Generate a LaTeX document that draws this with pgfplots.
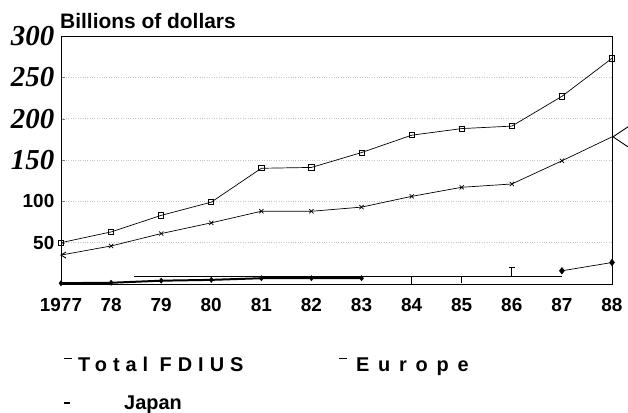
\documentclass[border=0pt]{standalone}
\usepackage{fontspec}
\setmainfont{Liberation Sans}
\newfontfamily\serfont{Liberation Serif}
\usepackage{pgfplots}
\pgfplotsset{compat=1.18}
\usetikzlibrary{calc}

% sans bold labels, serif italic labels
\newcommand\lab{\fontsize{19}{22}\selectfont\bfseries}
\newcommand\leg{\fontsize{20}{23}\selectfont\bfseries}
\newcommand\ser{\serfont\fontsize{29}{32}\selectfont\bfseries\itshape}

% open "<" marks used by the Europe series
\pgfdeclareplotmark{ltbig}{%
  \pgfpathmoveto{\pgfpoint{16bp}{10bp}}%
  \pgfpathlineto{\pgfpoint{1bp}{0bp}}%
  \pgfpathlineto{\pgfpoint{16bp}{-10bp}}%
  \pgfusepathqstroke}
\pgfdeclareplotmark{ltsmall}{%
  \pgfpathmoveto{\pgfpoint{5bp}{3bp}}%
  \pgfpathlineto{\pgfpoint{0bp}{0bp}}%
  \pgfpathlineto{\pgfpoint{5bp}{-3bp}}%
  \pgfusepathqstroke}

\begin{document}
\begin{tikzpicture}
\begin{axis}[
  width=551bp, height=248bp, scale only axis,
  xmin=1977, xmax=1988, ymin=0, ymax=300,
  xtick={1977,...,1988},
  xticklabels={1977,78,79,80,81,82,83,84,85,86,87,88},
  ytick={50,100,150,200,250,300},
  yticklabels={{\lab 50},{\lab 100},{\ser 150},{\ser 200},{\ser 250},{\ser 300}},
  yticklabel style={inner sep=6.5bp},
  xticklabel style={font=\lab, yshift=-11bp},
  ymajorgrids, grid style={dotted, gray!45, line width=0.5pt},
  tick align=inside, ytick pos=left, xtick style={draw=none},
  major tick length=4bp,
  axis line style={line width=0.8pt},
  clip=false,
  every axis plot/.append style={black, line width=0.7pt},
]
% Total FDIUS
\addplot[mark=square, mark size=2.6pt, mark options={line width=0.8pt}] coordinates {
(1977,50) (1978,63) (1979,83) (1980,99) (1981,140) (1982,141)
(1983,159) (1984,180) (1985,188) (1986,191) (1987,227) (1988,273)
};
% Europe
\addplot[mark=x, mark size=3pt, mark indices={2,3,...,11}] coordinates {
(1977,35) (1978,46) (1979,61) (1980,74) (1981,88) (1982,88)
(1983,93) (1984,106) (1985,117) (1986,121) (1987,149) (1988,178)
};
\addplot[only marks, mark=ltsmall, mark options={line width=0.9pt}] coordinates {(1977,35)};
\addplot[only marks, mark=ltbig, mark options={line width=0.9pt}] coordinates {(1988,178)};
% Japan
\addplot[line width=2pt, mark=diamond*, mark size=2.6pt, mark options={line width=0.5pt}] coordinates {
(1977,1) (1978,1.5) (1979,4) (1980,5) (1981,7) (1982,7) (1983,7)
};
\addplot[mark=diamond*, mark size=3.2pt] coordinates {(1987,16) (1988,26)};
% stray strokes of the original
\addplot[line width=0.8pt] coordinates {(1978.46,9.7) (1987,9.7)};
\addplot[line width=0.8pt, mark=-, mark size=3pt, mark indices={2}] coordinates {(1986,9.7) (1986,20)};
\addplot[line width=0.7pt] coordinates {(1984,0) (1984,8)};
\addplot[line width=0.7pt] coordinates {(1985,1) (1985,10)};
\end{axis}

% axis title
\node[anchor=base west, inner sep=0pt, font=\fontsize{21}{24}\selectfont\bfseries]
  at ($(current axis.north west)+(-1bp,7bp)$) {Billions of dollars};

% legend text
\draw[line width=0.8pt] ($(current axis.south west)+(3bp,-74bp)$) -- ++(8bp,0);
\node[anchor=base west, inner sep=0pt, font=\leg\addfontfeature{LetterSpace=30}]
  at ($(current axis.south west)+(17bp,-87bp)$) {Total FDIUS};
\draw[line width=0.8pt] ($(current axis.south west)+(278bp,-74bp)$) -- ++(8bp,0);
\node[anchor=base west, inner sep=0pt, font=\leg\addfontfeature{LetterSpace=44}]
  at ($(current axis.south west)+(295bp,-87bp)$) {Europe};
\draw[line width=1.6pt] ($(current axis.south west)+(3bp,-119bp)$) -- ++(6bp,0);
\node[anchor=base west, inner sep=0pt, font=\leg]
  at ($(current axis.south west)+(63bp,-125bp)$) {Japan};

\pgfresetboundingbox
\path[use as bounding box] ($(current axis.south west)+(-61bp,-129bp)$)
  rectangle ($(current axis.north east)+(16bp,36bp)$);
\end{tikzpicture}
\end{document}
